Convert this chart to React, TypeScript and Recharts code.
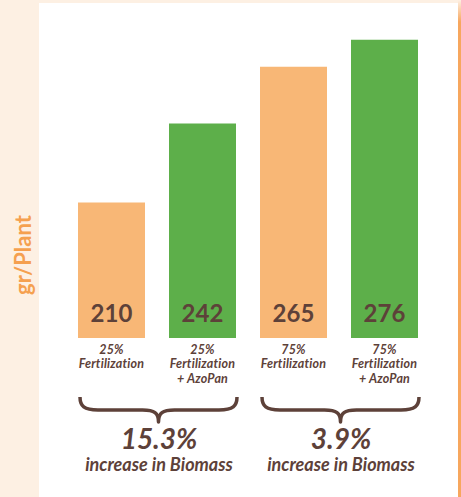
import React from "react";
import { BarChart, Bar, XAxis, YAxis, Cell } from "recharts";

// biomass per plant
const doses = ["25%", "25%", "75%", "75%"];
const treatments = [
  ["Fertilization"],
  ["Fertilization", "+ AzoPan"],
  ["Fertilization"],
  ["Fertilization", "+ AzoPan"],
];
const withAzoPan = [false, true, false, true];
const biomass = [210, 242, 265, 276];

// summary under each pair of bars
const groupGains = ["15.3%", "3.9%"];
const groupCaption = "increase in Biomass";

const data = biomass.map((v, i) => ({
  name: doses[i] + " " + treatments[i].join(" "),
  biomass: v,
}));

const ORANGE = "#f8b776";
const GREEN = "#5daf4a";
const BROWN = "#5d4139";
const FONT = "Lato, 'Open Sans', sans-serif";
const BAR = 67;

function ValueLabel(props: any) {
  const { x, y, width, height, value } = props;
  return (
    <text
      x={x + width / 2}
      y={y + height - 16}
      textAnchor="middle"
      fontFamily={FONT}
      fontWeight={700}
      fontSize={24}
      fill={BROWN}
    >
      {value}
    </text>
  );
}

function Brace({ left, right, top }: { left: number; right: number; top: number }) {
  const mid = (left + right) / 2;
  const y1 = top + 13;
  const y2 = top + 25;
  const d = `M ${left} ${top} C ${left} ${y1 - 4} ${left + 4} ${y1} ${left + 18} ${y1} L ${mid - 16} ${y1} C ${mid - 4} ${y1} ${mid} ${y1 + 3} ${mid} ${y2} C ${mid} ${y1 + 3} ${mid + 4} ${y1} ${mid + 16} ${y1} L ${right - 18} ${y1} C ${right - 4} ${y1} ${right} ${y1 - 4} ${right} ${top}`;
  return <path d={d} fill="none" stroke={BROWN} strokeWidth={3.5} strokeLinejoin="round" />;
}

function CategoryTick(props: any) {
  const { x, y, payload } = props;
  const i = payload.index;
  const step = payload.offset * 2;
  const lines = [doses[i], ...treatments[i]];
  let group = null;
  if (i % 2 === 0) {
    const g = i / 2;
    const cx = x + step / 2;
    group = (
      <g>
        <Brace left={x - BAR / 2 + 2} right={x + step + BAR / 2 + 1} top={y + 59} />
        <text
          x={cx + 2}
          y={y + 111}
          textAnchor="middle"
          fontFamily={FONT}
          fontStyle="italic"
          fontWeight={700}
          fontSize={28}
          fill={BROWN}
        >
          {groupGains[g]}
        </text>
        <text
          x={cx + 2}
          y={y + 133}
          textAnchor="middle"
          fontFamily={FONT}
          fontStyle="italic"
          fontWeight={700}
          fontSize={18}
          fill={BROWN}
        >
          {groupCaption}
        </text>
      </g>
    );
  }
  return (
    <g>
      {lines.map((t, k) => (
        <text
          key={k}
          x={x}
          y={y + 15.5 + k * 14.5}
          textAnchor="middle"
          fontFamily={FONT}
          fontStyle="italic"
          fontWeight={700}
          fontSize={12.5}
          letterSpacing={0.2}
          fill={BROWN}
        >
          {t}
        </text>
      ))}
      {group}
    </g>
  );
}

export default function App() {
  return (
    <div
      style={{
        position: "absolute",
        left: 0,
        top: 0,
        width: 461,
        height: 497,
        background: "#fdf0e3",
        overflow: "hidden",
      }}
    >
      <div
        style={{
          position: "absolute",
          left: 458,
          top: 0,
          width: 3,
          height: 497,
          background: "linear-gradient(#fdf0e3 0px, #f7a75e 22px, #f7a75e 100%)",
        }}
      />
      <div
        style={{
          position: "absolute",
          left: 39,
          top: 3,
          width: 419,
          height: 494,
          background: "#ffffff",
        }}
      />
      <div
        style={{
          position: "absolute",
          left: 22,
          top: 255,
          transform: "translate(-50%, -50%) rotate(-90deg)",
          color: "#f5a04f",
          fontFamily: FONT,
          fontWeight: 700,
          fontSize: 22,
          whiteSpace: "nowrap",
        }}
      >
        gr/Plant
      </div>
      <div style={{ position: "absolute", left: 0, top: 0 }}>
        <BarChart
          width={461}
          height={497}
          data={data}
          margin={{ top: 20, right: 31, left: 66, bottom: 0 }}
        >
          <XAxis
            dataKey="name"
            height={159}
            axisLine={false}
            tickLine={false}
            tickSize={0}
            tickMargin={0}
            interval={0}
            tick={<CategoryTick />}
          />
          <YAxis hide domain={[155, 284]} />
          <Bar
            dataKey="biomass"
            barSize={BAR}
            isAnimationActive={false}
            label={<ValueLabel />}
          >
            {biomass.map((_, i) => (
              <Cell key={i} fill={withAzoPan[i] ? GREEN : ORANGE} />
            ))}
          </Bar>
        </BarChart>
      </div>
    </div>
  );
}
